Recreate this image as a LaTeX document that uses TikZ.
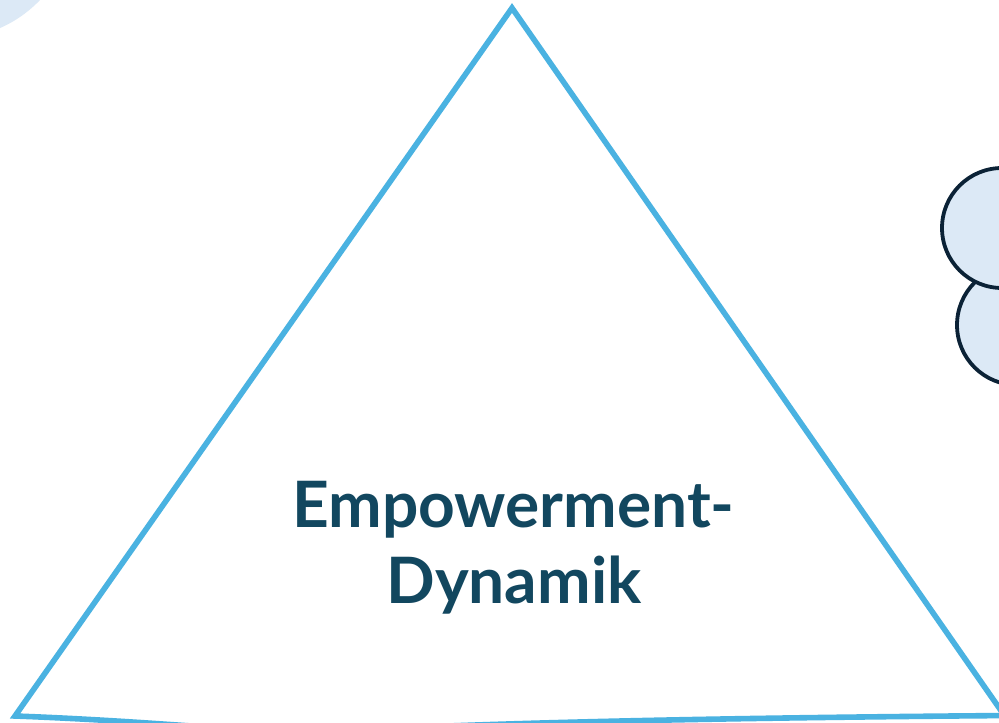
\documentclass[tikz,border=0pt]{standalone}
\usepackage{fontspec}
\setmainfont{Lato}
\definecolor{triblue}{HTML}{4AB2E1}
\definecolor{paleblue}{HTML}{DCE9F6}
\definecolor{navy}{HTML}{0B2236}
\definecolor{textblue}{HTML}{12475F}
\tikzset{
  triline/.style={draw=triblue,line width=5.6pt,line join=miter},
  cloudpart/.style={draw=navy,fill=paleblue,line width=3.8pt},
  titletext/.style={font=\fontsize{64}{76}\selectfont\bfseries,text=textblue,anchor=base,inner sep=0pt}
}
\begin{document}
\begin{tikzpicture}[x=1pt,y=-1pt]
\useasboundingbox (0,0) rectangle (999,723);
\clip (0,0) rectangle (999,723);
\fill[white] (0,0) rectangle (999,723);
% pale blue shape at the top left
\fill[paleblue] (-50,-86) circle (124.5);
% triangle
\draw[triline] (1010,723.5) -- (512,8) -- (15,716)
  .. controls (150,721) and (250,732) .. (300,732)
  .. controls (350,732) and (450,720) .. (1010,715.5);
% clouds at the right edge
\draw[cloudpart] (1017,325) circle (60);
\draw[cloudpart] (1002,228) circle (60);
% title
\node[titletext] (t1) at (513.5,527) {Empowerment-};
\node[titletext] (t2) at (514,603) {Dynamik};
\end{tikzpicture}
\end{document}
